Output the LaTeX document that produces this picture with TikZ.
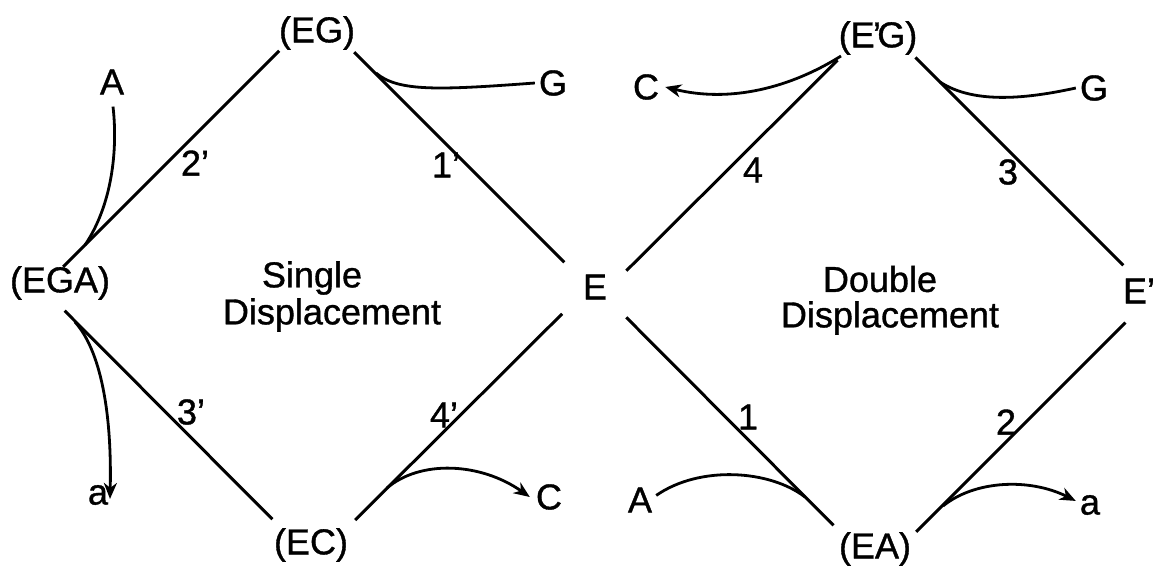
\documentclass[tikz,border=0pt]{standalone}
\usepackage{fontspec}
\setmainfont{Liberation Sans}
\newfontfamily\lblfont{Liberation Sans}[FakeBold=1]
\usetikzlibrary{arrows.meta}
\begin{document}
\begin{tikzpicture}[x=1pt,y=-1pt,
  lbl/.style={inner sep=0pt,font=\lblfont\fontsize{36}{40}\selectfont},
  edge/.style={line width=3pt},
  flow/.style={line width=2.8pt},
  arr/.style={flow,-{Stealth[length=16pt,width=13pt,inset=5pt]}}]
\useasboundingbox (0,0) rectangle (1158,566);
% diamond apexes
\coordinate (lT) at (316,14);
\coordinate (lL) at (42,288);
\coordinate (lB) at (314,561);
\coordinate (lR) at (589,287);
\coordinate (rT) at (878,20);
\coordinate (rL) at (603,294);
\coordinate (rB) at (878,570);
\coordinate (rR) at (1153,295);
% vertex labels
\node[lbl] (EG) at (317,33) {(EG)};
\node[lbl] (EGA) at (60,283) {(EGA)};
\node[lbl] (EC) at (311,545) {(EC)};
\node[lbl] (E) at (595,287) {E};
\node[lbl] (EpG) at (878,38) {(E\kern-0.05em’\kern-0.1em G)};
\node[lbl] (Ep) at (1139,291) {E’};
\node[lbl] (EA) at (875,549) {(EA)};
% edge labels
\node[lbl] (n2p) at (195,163) {2’};
\node[lbl] (n1p) at (446,165) {1’};
\node[lbl] (n3p) at (191,412) {3’};
\node[lbl] (n4p) at (444,415) {4’};
\node[lbl] (n4) at (753,170) {4};
\node[lbl] (n3) at (1008,172) {3};
\node[lbl] (n1) at (748,417) {1};
\node[lbl] (n2) at (1006,422) {2};
% titles
\node[lbl] (sg) at (312,278) {Single};
\node[lbl] (sd) at (332,315) {Displacement};
\node[lbl] (db) at (880,279) {Double};
\node[lbl] (dd) at (890,318) {Displacement};
% substrate / product labels
\node[lbl] (A1) at (112,82) {A};
\node[lbl] (G1) at (553,83) {G};
\node[lbl] (a1) at (98,495) {a};
\node[lbl] (C1) at (549,497) {C};
\node[lbl] (C2) at (646,87) {C};
\node[lbl] (G2) at (1094,88) {G};
\node[lbl] (A2) at (640,500) {A};
\node[lbl] (a2) at (1090,505) {a};
% diamond edges
\draw[edge,shorten <=52pt,shorten >=30pt] (lT) -- (lL);
\draw[edge,shorten <=54pt,shorten >=35pt] (lT) -- (lR);
\draw[edge,shorten <=32pt,shorten >=59pt] (lL) -- (lB);
\draw[edge,shorten <=58pt,shorten >=38pt] (lB) -- (lR);
\draw[edge,shorten <=57pt,shorten >=33pt] (rT) -- (rL);
\draw[edge,shorten <=53pt,shorten >=42pt] (rT) -- (rR);
\draw[edge,shorten <=33pt,shorten >=63pt] (rL) -- (rB);
\draw[edge,shorten <=39pt,shorten >=54pt] (rR) -- (rB);
% flow curves
\coordinate (jA1) at (85,245);
\coordinate (jG1) at (376,73);
\coordinate (ja1) at (75,322);
\coordinate (jC1) at (387,488);
\coordinate (jC2) at (841,56);
\coordinate (jG2) at (940,82);
\coordinate (jA2) at (805,497);
\coordinate (ja2) at (943,506);
\draw[flow] (A1.south) ++(1,12) .. controls (118,150) and (112,205) .. (jA1);
\draw[flow] (jG1) .. controls (398,92) and (440,90) .. ([xshift=-4pt]G1.west);
\draw[arr] (ja1) .. controls (100,350) and (112,410) .. ([yshift=-14pt]a1.north -| 110,0);
\draw[arr] (jC1) .. controls (420,460) and (480,462) .. ([xshift=-6pt]C1.west);
\draw[arr] (jC2) .. controls (790,88) and (730,103) .. ([xshift=6pt]C2.east);
\draw[flow] (jG2) .. controls (975,105) and (1030,98) .. ([xshift=-4pt]G2.west);
\draw[flow] ([xshift=4pt,yshift=-8pt]A2.north east) .. controls (700,465) and (770,470) .. (jA2);
\draw[arr] (ja2) .. controls (975,480) and (1030,478) .. ([xshift=-4pt,yshift=-6pt]a2.north west);
\end{tikzpicture}
\end{document}
